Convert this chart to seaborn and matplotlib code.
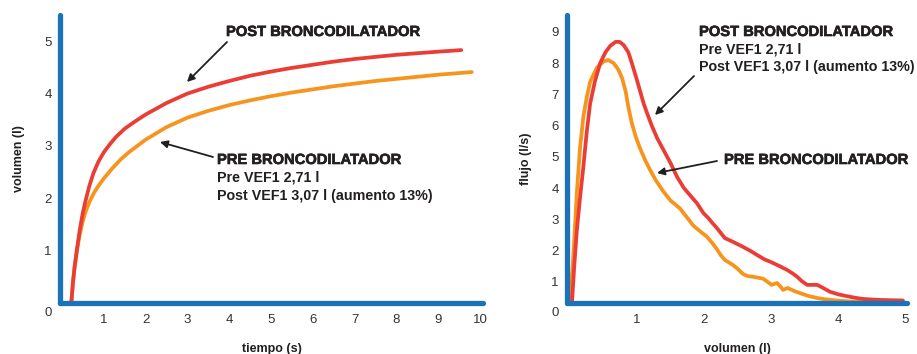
import numpy as np
import pandas as pd
import matplotlib
matplotlib.use("Agg")
import matplotlib.pyplot as plt
import matplotlib.patheffects as pe
import seaborn as sns
from matplotlib.ticker import MultipleLocator
from matplotlib.transforms import offset_copy

# ---------------- data ----------------
# volume-time curves
t_post = [0.22, 0.26, 0.3, 0.36, 0.42, 0.49, 0.56, 0.65, 0.75, 0.87, 1.0, 1.15, 1.3, 1.5, 1.75, 2.0,
          2.5, 3.0, 3.5, 4.0, 4.5, 5.0, 5.5, 6.0, 6.5, 7.0, 7.5, 8.0, 8.5, 9.0, 9.55]
v_post = [0.0, 0.4, 0.7, 1.05, 1.38, 1.7, 1.95, 2.23, 2.48, 2.7, 2.88, 3.04, 3.18, 3.33, 3.47, 3.6,
          3.82, 4.0, 4.13, 4.24, 4.34, 4.42, 4.49, 4.55, 4.61, 4.66, 4.7, 4.74, 4.77, 4.8, 4.83]
t_pre = [0.22, 0.26, 0.3, 0.36, 0.42, 0.49, 0.57, 0.66, 0.76, 0.88, 1.0, 1.2, 1.4, 1.6, 1.8, 2.0,
         2.5, 3.0, 3.5, 4.0, 4.5, 5.0, 5.5, 6.0, 6.5, 7.0, 7.5, 8.0, 8.5, 9.0, 9.8]
v_pre = [0.0, 0.38, 0.68, 1.02, 1.3, 1.55, 1.76, 1.94, 2.1, 2.25, 2.38, 2.57, 2.74, 2.88, 3.0, 3.12,
         3.36, 3.54, 3.67, 3.78, 3.87, 3.95, 4.02, 4.08, 4.14, 4.19, 4.24, 4.28, 4.32, 4.36, 4.41]

# flow-volume curves
vol_pre = [0.0, 0.04, 0.07, 0.1, 0.15, 0.2, 0.25, 0.3, 0.4, 0.5, 0.57, 0.65, 0.72, 0.78, 0.83, 0.87,
           0.92, 0.98, 1.04, 1.12, 1.19, 1.28, 1.39, 1.5, 1.64, 1.75, 1.84, 1.95, 2.04, 2.12, 2.19,
           2.25, 2.31, 2.43, 2.5, 2.58, 2.65, 2.73, 2.88, 2.96, 3.01, 3.09, 3.14, 3.18, 3.25, 3.35,
           3.43, 3.55, 3.69, 3.8, 3.93, 4.1, 4.28, 4.5]
flow_pre = [0.35, 1.5, 2.6, 3.8, 5.3, 6.3, 6.9, 7.4, 7.85, 8.05, 8.1, 8.0, 7.8, 7.5, 7.1, 6.6,
            6.1, 5.65, 5.3, 4.9, 4.6, 4.25, 3.9, 3.6, 3.35, 3.05, 2.8, 2.6, 2.45, 2.25, 2.05,
            1.85, 1.7, 1.54, 1.42, 1.25, 1.18, 1.16, 1.1, 0.98, 0.9, 0.96, 0.85, 0.74, 0.8, 0.7,
            0.64, 0.55, 0.48, 0.44, 0.41, 0.38, 0.36, 0.35]
vol_post = [0.03, 0.06, 0.1, 0.15, 0.2, 0.25, 0.3, 0.37, 0.45, 0.53, 0.6, 0.68, 0.74, 0.8, 0.87, 0.93,
            1.0, 1.06, 1.1, 1.15, 1.22, 1.3, 1.4, 1.5, 1.6, 1.7, 1.8, 1.9, 1.99, 2.06, 2.13, 2.2,
            2.31, 2.43, 2.58, 2.7, 2.79, 2.9, 2.99, 3.1, 3.24, 3.32, 3.39, 3.46, 3.54, 3.69, 3.78,
            3.88, 4.0, 4.13, 4.25, 4.37, 4.6, 4.97]
flow_post = [0.35, 1.4, 2.6, 3.7, 4.7, 5.8, 6.7, 7.4, 8.0, 8.35, 8.55, 8.68, 8.68, 8.58, 8.35, 7.95,
             7.45, 7.0, 6.7, 6.4, 6.0, 5.6, 5.2, 4.8, 4.35, 4.0, 3.75, 3.5, 3.2, 3.05, 2.87, 2.7,
             2.4, 2.28, 2.12, 1.98, 1.86, 1.72, 1.64, 1.53, 1.38, 1.27, 1.16, 1.02, 0.9, 0.9, 0.8,
             0.68, 0.6, 0.54, 0.49, 0.45, 0.42, 0.4]

lbl_post = "POST BRONCODILATADOR"
lbl_pre = "PRE BRONCODILATADOR"
note_lines = ["Pre VEF1 2,71 l", "Post VEF1 3,07 l (aumento 13%)"]

# ---------------- style ----------------
sns.set_style("white")
plt.rcParams["font.family"] = ["Liberation Sans", "DejaVu Sans"]

BLUE = "#1a72b8"
RED = "#ea3d35"
ORANGE = "#f7941d"
INK = "#231f20"
TICKC = "#333333"

W, H = 917, 354
fig = plt.figure(figsize=(W / 100, H / 100), dpi=100)

def px_axes(l, r, b, t):
    return fig.add_axes([l / W, (H - b) / H, (r - l) / W, (b - t) / H])

ax1 = px_axes(60, 483, 303, 15)
ax2 = px_axes(567, 907, 303, 15)

df_vt = pd.concat([
    pd.DataFrame({"x": t_pre, "y": v_pre, "s": "pre"}),
    pd.DataFrame({"x": t_post, "y": v_post, "s": "post"}),
])
df_fv = pd.concat([
    pd.DataFrame({"x": vol_pre, "y": flow_pre, "s": "pre"}),
    pd.DataFrame({"x": vol_post, "y": flow_post, "s": "post"}),
])
pal = {"pre": ORANGE, "post": RED}

for ax, df in ((ax1, df_vt), (ax2, df_fv)):
    sns.lineplot(data=df, x="x", y="y", hue="s", palette=pal, estimator=None, sort=False,
                 lw=2.7, ax=ax, legend=False, solid_capstyle="round", solid_joinstyle="round")

ax1.set_xlim(-0.05, 10.07)
ax1.set_ylim(0, 5.5)
ax1.xaxis.set_minor_locator(MultipleLocator(0.5))
ax1.yaxis.set_minor_locator(MultipleLocator(0.5))
ax1.set_xticks(range(1, 11))
ax1.set_yticks(range(1, 6))

ax2.set_xlim(-0.045, 5.03)
ax2.set_ylim(0.32, 9.54)
ax2.xaxis.set_minor_locator(MultipleLocator(0.5))
ax2.yaxis.set_minor_locator(MultipleLocator(0.5))
ax2.set_xticks(range(1, 6))
ax2.set_yticks(range(1, 10))

for ax in (ax1, ax2):
    for s in ("top", "right"):
        ax.spines[s].set_visible(False)
    for s in ("left", "bottom"):
        ax.spines[s].set_color(BLUE)
        ax.spines[s].set_linewidth(3.8)
        ax.spines[s].set_capstyle("round")
        ax.spines[s].set_zorder(3)
    ax.tick_params(which="major", direction="in", length=7, width=1.6, color=BLUE,
                   labelsize=9.5, labelcolor=TICKC)
    ax.tick_params(which="minor", direction="in", length=4.5, width=1.3, color=BLUE)
    ax.tick_params(axis="x", which="major", pad=8)
    ax.tick_params(axis="y", which="major", pad=6)
    ax.set_facecolor("none")
    # corner "0"
    tr = offset_copy(ax.transAxes, fig=fig, x=-12 * 0.72, y=-10 * 0.72, units="points")
    ax.text(0, 0, "0", transform=tr, ha="center", va="center", fontsize=9.5, color=TICKC)

ax1.set_xlabel("tiempo (s)", fontsize=9, fontweight="bold", color=INK, labelpad=12)
ax1.set_ylabel("volumen (l)", fontsize=9, fontweight="bold", color=INK, labelpad=14)
ax2.set_xlabel("volumen (l)", fontsize=9, fontweight="bold", color=INK, labelpad=12)
ax2.set_ylabel("flujo (l/s)", fontsize=9, fontweight="bold", color=INK, labelpad=14)

# ---------------- annotations (pixel placement) ----------------
def fx(x):
    return x / W

def fy(y):
    return (H - y) / H

heavy = [pe.withStroke(linewidth=0.45, foreground=INK)]
arrow = dict(arrowstyle="-|>", color=INK, lw=1.3, mutation_scale=11, shrinkA=0, shrinkB=0)

def head(x, y, s):
    fig.text(fx(x), fy(y), s, ha="left", va="center", fontsize=10.6,
             fontweight="bold", color=INK, path_effects=heavy)

def note(x, y, s):
    fig.text(fx(x), fy(y), s, ha="left", va="center", fontsize=10.3,
             fontweight="bold", color=INK)

def arr(x0, y0, x1, y1):
    fig.add_artist(matplotlib.patches.FancyArrowPatch(
        (fx(x0), fy(y0)), (fx(x1), fy(y1)), transform=fig.transFigure, **arrow))

# left panel
head(226, 32, lbl_post)
arr(227, 42, 187, 82)
head(217, 160, lbl_pre)
note(217, 178, note_lines[0])
note(217, 196, note_lines[1])
arr(213, 157, 160, 142)

# right panel
head(699, 32, lbl_post)
note(699, 50, note_lines[0])
note(699, 67, note_lines[1])
arr(694, 76, 655, 115)
head(724, 160, lbl_pre)
arr(717, 161, 657, 173)

fig.savefig("out.png", dpi=100)
